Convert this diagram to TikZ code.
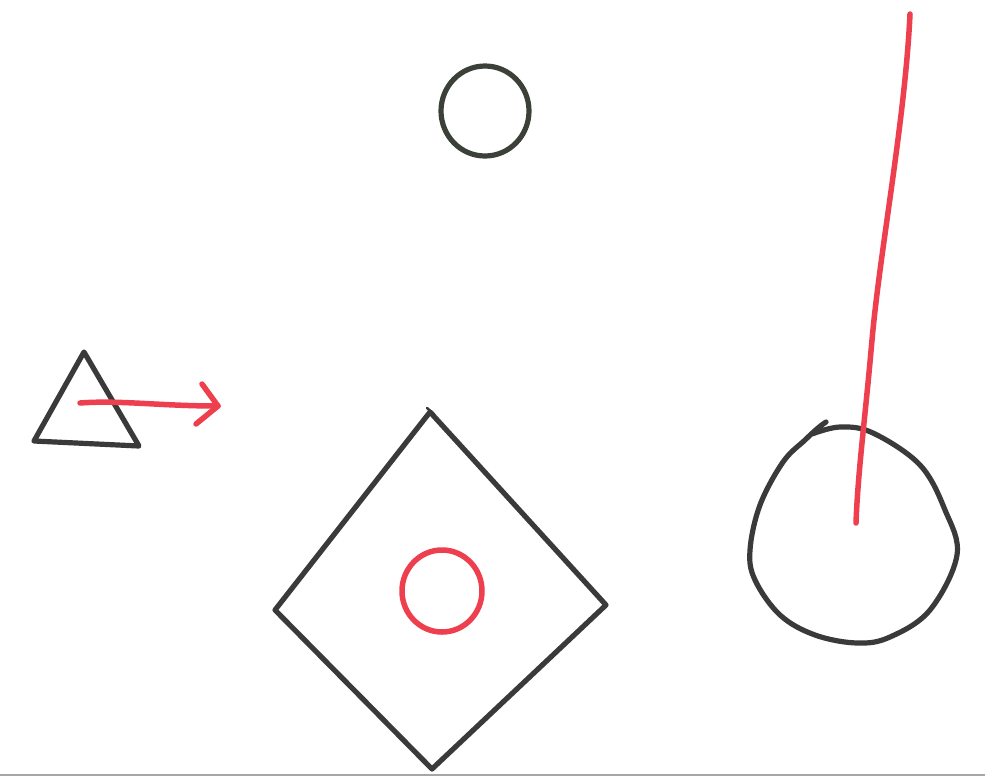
\documentclass[tikz,border=0pt]{standalone}
\begin{document}
\begin{tikzpicture}[x=1pt,y=-1pt,
  ink/.style={draw=inkgray,line width=5.2pt,line cap=round,line join=round},
  redink/.style={draw=inkred,line width=5.5pt,line cap=round,line join=round}]
\definecolor{inkgray}{HTML}{3A3A3A}
\definecolor{inkgreen}{HTML}{3B4139}
\definecolor{inkred}{HTML}{EE3F4E}
\useasboundingbox[fill=white] (0,0) rectangle (985,780);
% scan edge line
\draw[gray!70,line width=1.2pt] (0,775) -- (985,775);
% top circle
\draw[ink,draw=inkgreen] (485,111) ellipse (44 and 45);
% triangle
\draw[ink] (84,352) -- (34,441) -- (139,446) -- cycle;
% red arrow
\coordinate (as) at (80,403);
\coordinate (ae) at (218,406);
\draw[redink] (as) .. controls (120,400) and (160,406) .. (ae);
\draw[redink] (202,384) -- (ae) -- (196,424);
% diamond
\draw[ink] (430,412) -- (606,605) -- (432,769) -- (275,610) -- cycle;
\draw[ink,line width=2.5pt] (427,408) -- (434,414);
% red circle
\draw[redink] (442,591) ellipse (40 and 41);
% big circle
\draw[ink] plot[smooth,tension=0.6] coordinates {(812,434) (840,427) (873,433)
  (920,465) (945,510) (957,555) (930,610) (890,637) (857,643) (815,635)
  (780,615) (755,580) (750,550) (760,505) (783,462) (805,440) (818,428) (826,422)};
% red line
\draw[redink] (910,14) .. controls (905,120) and (880,250) .. (872,340)
  .. controls (865,420) and (858,470) .. (856,523);
\end{tikzpicture}
\end{document}
